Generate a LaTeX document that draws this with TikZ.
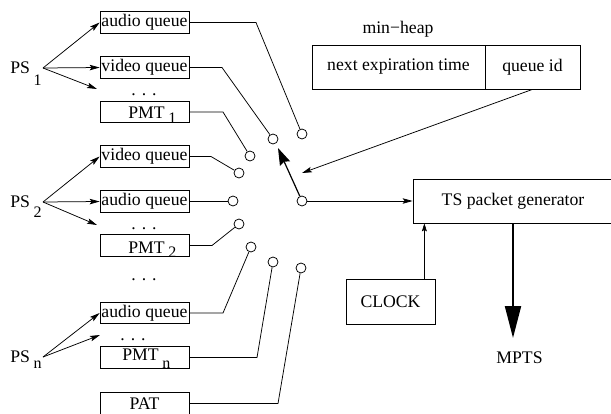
\documentclass[tikz,border=0pt]{standalone}
\usepackage{fontspec}
\setmainfont{Liberation Serif}
\usetikzlibrary{arrows.meta}
\newcommand\subdrop[2]{\hspace{3.5pt}\raisebox{-#1pt}{\fontsize{16}{16}\selectfont #2}}
\begin{document}
\begin{tikzpicture}[x=1pt,y=-1pt,
  font=\fontsize{17.7}{20}\selectfont,
  line width=0.75pt,
  qbox/.style={draw, minimum width=89pt, minimum height=21.5pt, inner sep=0pt},
  bigbox/.style={draw, minimum height=44pt, inner sep=0pt},
  sw/.style={draw, circle, minimum size=10pt, inner sep=0pt},
  arr/.style={-{Stealth[length=10pt,width=5.5pt,inset=2pt]}},
  txt/.style={inner sep=0pt, anchor=base west},
  dots/.style={inner sep=0pt, anchor=base}]
\useasboundingbox (0,0) rectangle (611,413);

% queue boxes
\node[qbox] (aq1) at (144.5,22.5) {audio queue};
\node[qbox] (vq1) at (144.5,67.5) {video queue};
\node[qbox] (pmt1) at (144.5,112) {};
\node[qbox] (vq2) at (144.5,156.5) {video queue};
\node[qbox] (aq2) at (144.5,201.5) {audio queue};
\node[qbox] (pmt2) at (144.5,245.5) {};
\node[qbox] (aq3) at (144.5,313) {audio queue};
\node[qbox] (pmtn) at (144.5,357.5) {};
\node[qbox] (pat) at (144.5,403.5) {PAT};

\node[txt] (pmt1t) at (128,118) {PMT\subdrop{5}{1}};
\node[txt] (pmt2t) at (128,253) {PMT\subdrop{4}{2}};
\node[txt] (pmtnt) at (122,360) {PMT\subdrop{8}{n}};

\node[dots] (d1) at (144,95.5) {. . .};
\node[dots] (d2) at (144,229) {. . .};
\node[dots] (d3) at (144,280.5) {. . .};
\node[dots] (d4) at (133,340.5) {. . .};

% PS labels
\node[txt] (ps1) at (10,73) {PS\subdrop{12}{1}};
\node[txt] (ps2) at (10,207) {PS\subdrop{10}{2}};
\node[txt] (psn) at (10,362) {PS\subdrop{6}{n}};
\coordinate (o1) at (43,68);
\coordinate (o2) at (43,202);
\coordinate (on) at (43,357);
\coordinate (e1) at (97,89);
\coordinate (e2) at (97,225);
\coordinate (en) at (100,335);

\draw[arr] (o1) -- (aq1.west);
\draw[arr] (o1) -- (vq1.west);
\draw[arr] (o1) -- (e1);
\draw[arr] (o2) -- (vq2.west);
\draw[arr] (o2) -- (aq2.west);
\draw[arr] (o2) -- (e2);
\draw[arr] (on) -- (aq3.west);
\draw[arr] (on) -- (en);

% switch contacts
\node[sw] (c1) at (302,134) {};
\node[sw] (c2) at (273,139) {};
\node[sw] (c3) at (250,156) {};
\node[sw] (c4) at (239,173) {};
\node[sw] (c5) at (233,201) {};
\node[sw] (c6) at (239,224) {};
\node[sw] (c7) at (251,247) {};
\node[sw] (c8) at (273,262) {};
\node[sw] (c9) at (301,268) {};
\node[sw] (c0) at (302,201) {};

\draw (aq1.east) -- (256,22.5) -- (c1);
\draw (vq1.east) -- (222,67.5) -- (c2);
\draw (pmt1.east) -- (223,112) -- (c3);
\draw (vq2.east) -- (211,156.5) -- (c4);
\draw (aq2.east |- c5) -- (c5);
\draw (pmt2.east) -- (212,245.5) -- (c6);
\draw (aq3.east) -- (223,313) -- (c7);
\draw (pmtn.east) -- (257,357.5) -- (c8);
\draw (pat.east) -- (278,403.5) -- (c9);

% switch arm
\coordinate (armtip) at (278,148);
\draw[line width=1.2pt, -{Stealth[length=17pt,width=11pt,inset=2pt]}] (c0) -- (armtip);

% min-heap
\node[inner sep=0pt] (mhl) at (398,29) {min−heap};
\node[bigbox, minimum width=173pt] (net) at (398.5,67) {next expiration time};
\node[bigbox, minimum width=95pt] (qid) at (532.5,67) {queue id};
\coordinate (hp) at (302,173);
\draw[arr] (qid.south) -- (hp);

% TS packet generator
\node[bigbox, minimum width=200pt] (ts) at (513,201) {TS packet generator};
\draw[arr] (c0) -- (ts.west);

% clock
\node[draw, minimum width=89pt, minimum height=45pt, inner sep=0pt] (clk) at (390.5,301.5) {CLOCK};
\draw[line width=0.6pt, -{Stealth[length=8pt,width=5pt,inset=1.5pt]}] ([xshift=-11pt]clk.north east) -- ([xshift=-11pt]clk.north east |- ts.south);

% MPTS
\node[inner sep=0pt, anchor=base] (mpts) at (519.5,363) {MPTS};
\coordinate (mtip) at (513,338);
\draw[line width=2pt, -{Stealth[length=32pt,width=16pt,inset=0pt]}] (ts.south) -- (mtip);
\end{tikzpicture}
\end{document}
